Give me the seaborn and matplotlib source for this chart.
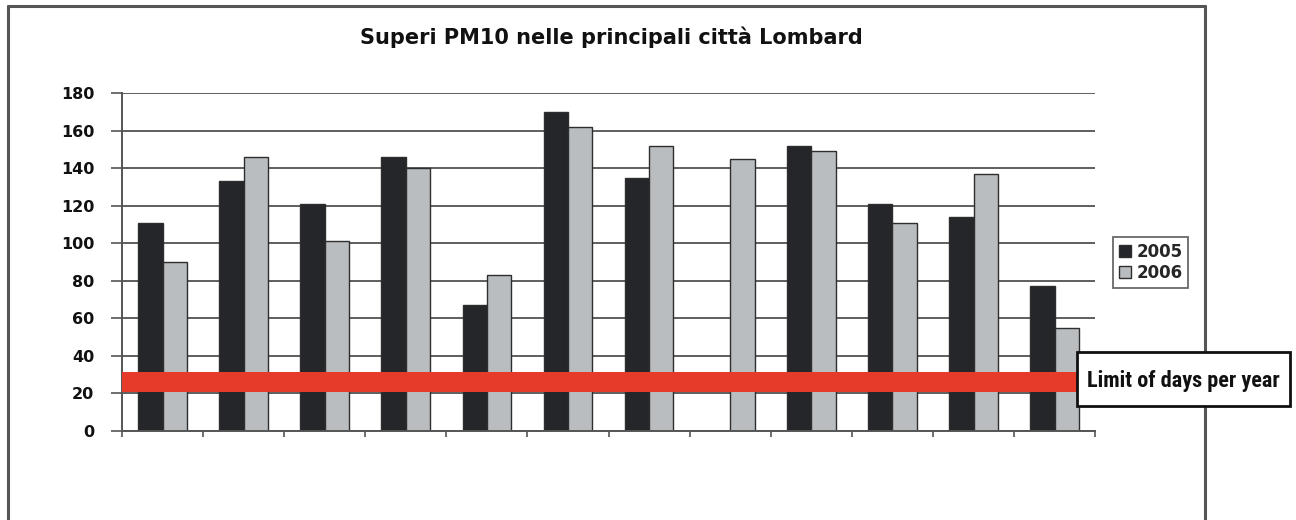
import numpy as np
import pandas as pd
import matplotlib
matplotlib.use('Agg')
import matplotlib.pyplot as plt
from matplotlib import font_manager
from matplotlib.patches import Rectangle
from matplotlib.lines import Line2D
import seaborn as sns

# ---- data ------------------------------------------------------------------
# the city names are blanked out in the source, so the categories are just numbered
cities = ['C01', 'C02', 'C03', 'C04', 'C05', 'C06', 'C07', 'C08', 'C09', 'C10', 'C11', 'C12']
days_2005 = [111, 133, 121, 146, 67, 170, 135, np.nan, 152, 121, 114, 77]
days_2006 = [90, 146, 101, 140, 83, 162, 152, 145, 149, 111, 137, 55]
years = ['2005', '2006']
y_ticks = [0, 20, 40, 60, 80, 100, 120, 140, 160, 180]
limit_band = (20.7, 31.4)

title = 'Superi PM10 nelle principali città Lombard'
limit_label = 'Limit of days per year'

df = pd.DataFrame({'city': cities * 2,
                   'year': [years[0]] * len(cities) + [years[1]] * len(cities),
                   'days': days_2005 + days_2006}).dropna()

# ---- style -----------------------------------------------------------------
sns.set_style('white')
plt.rcParams['font.family'] = ['DejaVu Sans']
installed = {f.name for f in font_manager.fontManager.ttflist}
narrow = next((f for f in ['Liberation Sans Narrow', 'Roboto Condensed', 'Open Sans Condensed',
                           'Roboto', 'Liberation Sans'] if f in installed), 'DejaVu Sans')

fig = plt.figure(figsize=(12.96, 5.2), dpi=100)
ax = fig.add_axes([0.0941, 0.1717, 0.751, 0.649])

sns.barplot(data=df, x='city', y='days', hue='year', order=cities, hue_order=years,
            palette=['#24262a', '#b9bdc0'], width=0.6, edgecolor='#2e2e2e', linewidth=1.0,
            saturation=1, ax=ax, legend=True)

ax.set_ylim(0, 180)
ax.set_xlim(-0.5, len(cities) - 0.5)
ax.set_yticks(y_ticks)
ax.set_yticklabels([str(t) for t in y_ticks], fontsize=11.5, fontweight='bold', color='#111111')
ax.set_xticks(np.arange(-0.5, len(cities), 1.0))
ax.set_xticklabels([])
ax.tick_params(axis='y', direction='out', length=8, width=1.2, color='#555555', left=True, pad=12)
ax.tick_params(axis='x', direction='out', length=4, width=1.2, color='#555555', bottom=True)
ax.set_xlabel('')
ax.set_ylabel('')
ax.yaxis.grid(True, color='#5e5e5e', linewidth=1.4)
ax.set_axisbelow(True)
for side in ['top', 'right']:
    ax.spines[side].set_visible(False)
for side in ['left', 'bottom']:
    ax.spines[side].set_color('#555555')
    ax.spines[side].set_linewidth(1.4)

# red band for the limit
ax.axhspan(limit_band[0], limit_band[1], xmin=0, xmax=0.985, color='#e63b2a', zorder=4, linewidth=0)

# legend box on the right
handles, labels = ax.get_legend_handles_labels()
ax.legend(handles, labels, loc='upper left', bbox_to_anchor=(1113 / 1296, 1 - 237 / 520),
          bbox_transform=fig.transFigure, borderaxespad=0, frameon=True, fancybox=False,
          edgecolor='#444444', handlelength=0.7, handleheight=0.7, handletextpad=0.35,
          borderpad=0.35, labelspacing=0.2, prop={'weight': 'bold', 'size': 12})
ax.get_legend().get_frame().set_linewidth(1.3)

fig.text(611 / 1296, 1 - 37 / 520, title, ha='center', va='center',
         fontsize=15, fontweight='bold', color='#111111')

# outer frame of the original slide
frame = dict(transform=fig.transFigure, color='#555555', linewidth=2.2)
fig.add_artist(Line2D([8 / 1296, 8 / 1296], [0, 1 - 6 / 520], **frame))
fig.add_artist(Line2D([8 / 1296, 1205 / 1296], [1 - 6 / 520, 1 - 6 / 520], **frame))
fig.add_artist(Line2D([1205 / 1296, 1205 / 1296], [0, 1 - 6 / 520], **frame))

# label box for the limit band
fig.add_artist(Rectangle((1077 / 1296, 1 - 406 / 520), 213 / 1296, 54 / 520,
                         transform=fig.transFigure, facecolor='white', edgecolor='#111111',
                         linewidth=2, zorder=5))
fig.text(1183 / 1296, 1 - 381 / 520, limit_label, ha='center', va='center', zorder=6,
         fontsize=16, fontweight='bold', family=[narrow, 'DejaVu Sans'], color='#111111')

fig.savefig('out.png', dpi=100)
